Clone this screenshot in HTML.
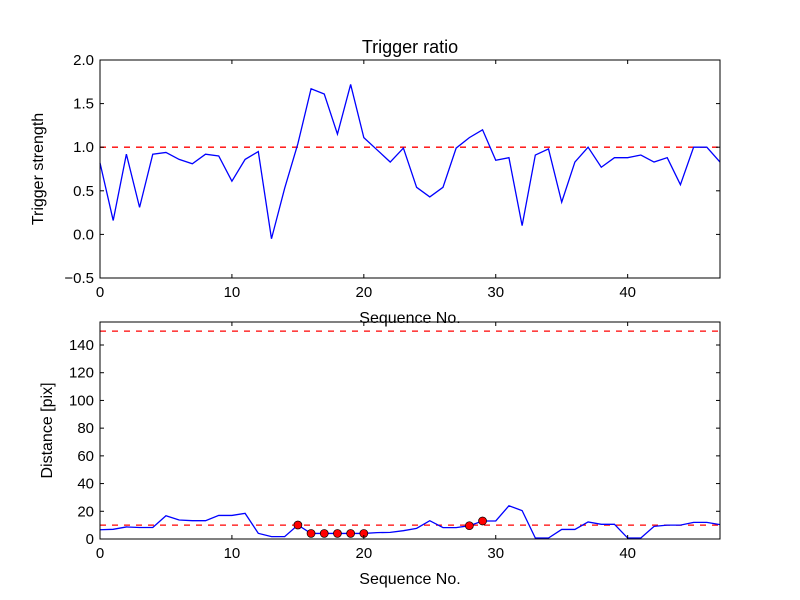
<!DOCTYPE html>
<html><head><meta charset="utf-8"><style>body{margin:0;background:#fff}svg{display:block;font-family:"Liberation Sans",sans-serif}</style></head>
<body>
<svg id="c" width="800" height="600"></svg>
<script>
const xs = Array.from({length:48},(_, i)=>i);
const ratio = [0.82,0.16,0.92,0.31,0.92,0.94,0.86,0.81,0.92,0.90,0.61,0.86,0.95,-0.05,0.53,1.04,1.67,1.61,1.15,1.72,1.11,0.97,0.83,0.99,0.54,0.43,0.54,0.99,1.11,1.20,0.85,0.88,0.10,0.91,0.98,0.37,0.83,1.00,0.77,0.88,0.88,0.91,0.83,0.88,0.57,1.00,1.00,0.83];
const dist = [6.7,7,8.7,8.3,8.3,16.8,13.7,13.2,13.2,17,17,18.5,4.1,1.7,1.7,10.1,4,4,4,4,4,4.6,4.8,6,7.7,13.2,8.2,8.2,9.6,13,13,24,20.5,0.7,0.7,6.9,6.9,12.3,10.6,10.6,0.7,0.7,9.1,10,10,12,12,10.4];
const flagged = [15,16,17,18,19,20,28,29];
const xTicks = [0,10,20,30,40];
const topTicks = [-0.5,0.0,0.5,1.0,1.5,2.0];
const botTicks = [0,20,40,60,80,100,120,140];
const ratioThresh = 1.0, distThresh = 10, distMax = 150;

const svg = document.getElementById('c');
const NS='http://www.w3.org/2000/svg';
function mk(t,a,p){const e=document.createElementNS(NS,t);for(const k in a)e.setAttribute(k,a[k]);(p||svg).appendChild(e);return e;}
const X0=100,X1=720;
const sx=v=>X0+(v-0)/(47-0)*(X1-X0);
function panel(name,y0,y1,ymin,ymax,ticks,fmt,vals,thresh,ylabel,markers){
  const sy=v=>y1-(v-ymin)/(ymax-ymin)*(y1-y0);
  const g=mk('g',{});
  
  
  mk('rect',{x:X0,y:y0,width:X1-X0,height:y1-y0,fill:'#fff'},g);
  const th=mk('line',{x1:X0,x2:X1,y1:sy(thresh),y2:sy(thresh),stroke:'#f00','stroke-width':1.3,'stroke-dasharray':'6,6'},g);
  
  
  if(name==='distance-panel'){const t2=mk('line',{x1:X0,x2:X1,y1:sy(distMax),y2:sy(distMax),stroke:'#f00','stroke-width':1.3,'stroke-dasharray':'6,6'},g);
    
    }
  const pl=mk('polyline',{points:vals.map((v,i)=>sx(xs[i])+','+sy(v)).join(' '),fill:'none',stroke:'#00f','stroke-width':1.3},g);
  
  
  if(markers)markers.forEach(i=>{const c=mk('circle',{cx:sx(xs[i]),cy:sy(vals[i]),r:4,fill:'#f00',stroke:'#000','stroke-width':0.7},g);
    
    });
  mk('rect',{x:X0,y:y0,width:X1-X0,height:y1-y0,fill:'none',stroke:'#000','stroke-width':1},g);
  ticks.forEach(t=>{const y=sy(t);
    mk('line',{x1:X0,x2:X0+4,y1:y,y2:y,stroke:'#000'},g);mk('line',{x1:X1-4,x2:X1,y1:y,y2:y,stroke:'#000'},g);
    const tx=mk('text',{x:X0-6,y:y+5,'text-anchor':'end','font-size':15},g);tx.textContent=fmt(t);
    
    });
  xTicks.forEach(t=>{const x=sx(t);
    mk('line',{x1:x,x2:x,y1:y1,y2:y1-4,stroke:'#000'},g);mk('line',{x1:x,x2:x,y1:y0,y2:y0+4,stroke:'#000'},g);
    const tx=mk('text',{x:x,y:y1+19,'text-anchor':'middle','font-size':15},g);tx.textContent=t;
    
    });
  const xl=mk('text',{x:410,y:y1+45,'text-anchor':'middle','font-size':16},g);xl.textContent='Sequence No.';
  
  
  const yl=mk('text',{x:0,y:0,'text-anchor':'middle','font-size':16,transform:`translate(${name==='ratio-panel'?43:52},${(y0+y1)/2}) rotate(-90)`},g);yl.textContent=ylabel;
  
  
}
panel('distance-panel',322,539,0,156.6,botTicks,t=>t,dist,distThresh,'Distance [pix]',flagged);
panel('ratio-panel',60,278,-0.5,2.0,topTicks,t=>t.toFixed(1).replace('-','\u2212'),ratio,ratioThresh,'Trigger strength',null);
const tt=mk('text',{x:410,y:53,'text-anchor':'middle','font-size':18});tt.textContent='Trigger ratio';


</script>
</body></html>
